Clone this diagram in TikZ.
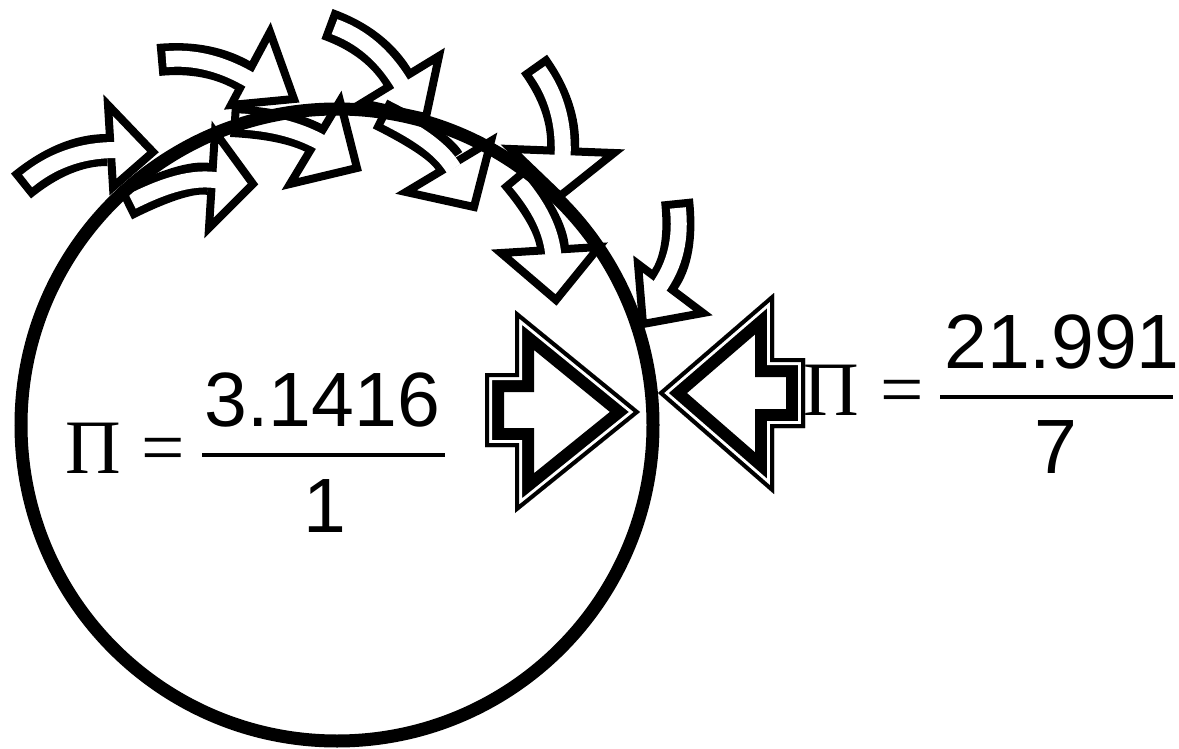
\documentclass[tikz,border=0pt]{standalone}
\usepackage{fontspec}
\usetikzlibrary{calc}
\setmainfont{Liberation Serif}
\newfontfamily\arialfont{Liberation Sans}
\newcommand\hollowarrow[6]{%
  \coordinate (hT) at #1; \coordinate (hC) at #2; \coordinate (hB) at #3;
  \coordinate (hC1) at ($(hT)!0.6667!(hC)$);
  \coordinate (hC2) at ($(hB)!0.6667!(hC)$);
  \draw[line width=32pt] (hT) .. controls (hC1) and (hC2) .. (hB);
  \filldraw[fill=white, line width=8pt, line join=miter] #4 -- #5 -- #6 -- cycle;
  \draw[white, line width=16pt, shorten <=8pt, shorten >=-9pt] (hT) .. controls (hC1) and (hC2) .. (hB);
}
\newcommand\blockarrow[1]{%
  \begin{scope}
    \clip #1 -- cycle;
    \fill[white] #1 -- cycle;
    \draw[line width=38pt, line join=miter] #1 -- cycle;
    \draw[white, line width=14pt, line join=miter] #1 -- cycle;
    \draw[line width=8pt, line join=miter] #1 -- cycle;
  \end{scope}}
\begin{document}
\begin{tikzpicture}[x=1pt,y=-1pt,
  ring/.style={line width=13pt},
  numtext/.style={font=\arialfont\fontsize{77pt}{80pt}\selectfont, inner sep=0pt, anchor=base},
  pitext/.style={font=\fontsize{77pt}{80pt}\selectfont, inner sep=0pt, anchor=base west},
  fracbar/.style={line width=4pt}]
\useasboundingbox (0,0) rectangle (1179,749);
\fill[white] (0,0) rectangle (1179,749);

% upper row of curved arrows
\hollowarrow{(21,186)}{(65,150)}{(107,150)}{(108,105)}{(153,152)}{(113,187)}
\hollowarrow{(158,60)}{(210,55)}{(247,78)}{(270,32)}{(294,99)}{(231,105)}
\hollowarrow{(327,24)}{(377,42)}{(399,80)}{(439,56)}{(426,117)}{(362,103)}
\hollowarrow{(534,64)}{(565,107)}{(563,148)}{(511,149)}{(560,196)}{(614,153)}
\hollowarrow{(677,200)}{(683,255)}{(663,282)}{(638,264)}{(643,324)}{(703,313)}
% lower row of curved arrows
\hollowarrow{(125,205)}{(185,175)}{(209,179)}{(215,132)}{(253,184)}{(209,228)}
\hollowarrow{(231,121)}{(291,124)}{(319,141)}{(340,101)}{(357,168)}{(290,184)}
\hollowarrow{(380,114)}{(438,143)}{(449,161)}{(491,141)}{(474,207)}{(406,192)}
\hollowarrow{(513,176)}{(551,221)}{(553,249)}{(501,253)}{(556,300)}{(599,247)}

% block arrows
\blockarrow{(485,373) -- (515,373) -- (515,310) -- (640,412) -- (515,513) -- (515,447) -- (485,447)}
\blockarrow{(805,358) -- (774,358) -- (774,293) -- (658,393) -- (774,494) -- (774,428) -- (805,428)}

% circle
\draw[ring] (337,425) circle[radius=316pt];

% left formula
\node[pitext] (piL) at (65.5,473) {Π};
\node[pitext] (eqL) at (141,473) {=};
\coordinate (barLa) at (202,455);
\coordinate (barLb) at (445,455);
\draw[fracbar] (barLa) -- (barLb);
\node[numtext] (numL) at (322.5,426) {3.1416};
\node[numtext] (denL) at (325,532) {1};

% right formula
\node[pitext] (piR) at (803.5,415) {Π};
\node[pitext] (eqR) at (880,415) {=};
\coordinate (barRa) at (940,397);
\coordinate (barRb) at (1173,397);
\draw[fracbar] (barRa) -- (barRb);
\node[numtext] (numR) at (1062,368) {21.991};
\node[numtext] (denR) at (1056,473) {7};
\end{tikzpicture}
\end{document}
